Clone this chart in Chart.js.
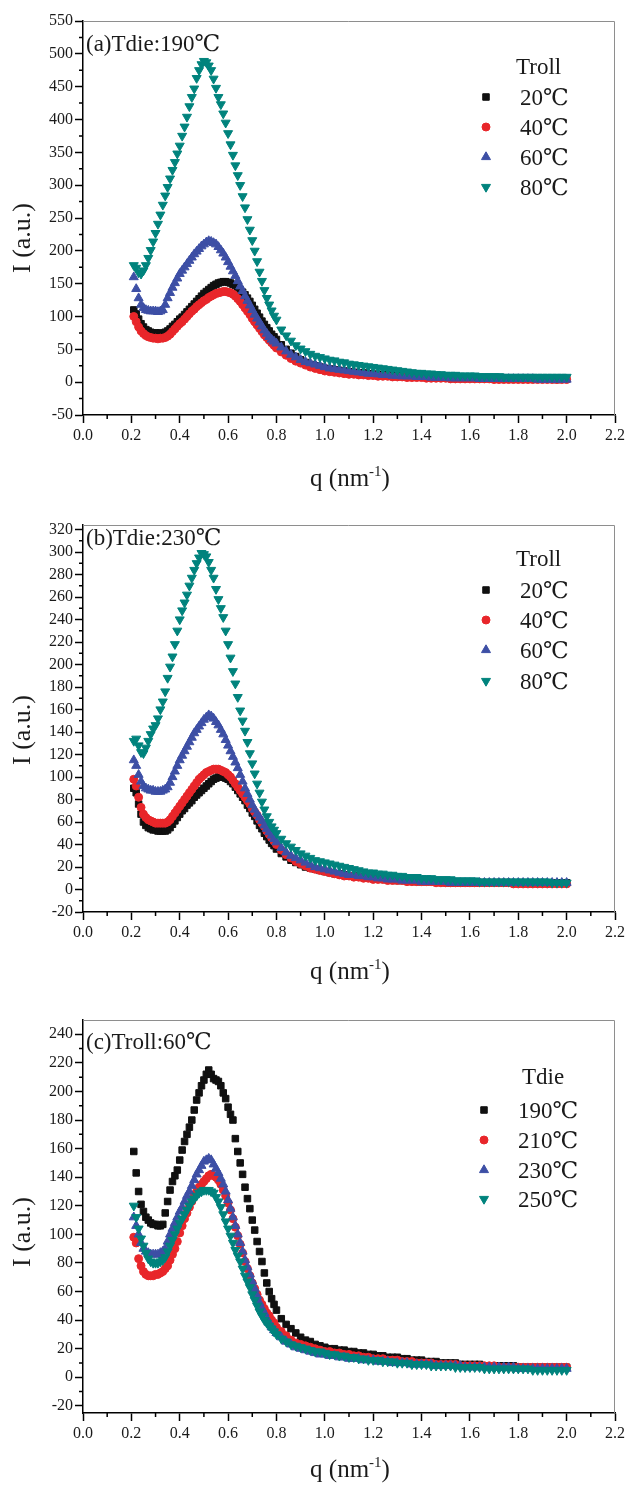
<!DOCTYPE html>
<html>
<head>
<meta charset="utf-8">
<script src="https://cdn.jsdelivr.net/npm/chart.js@4.4.1/dist/chart.umd.min.js"></script>
<style>
body { margin: 0; background: #fff; }
#wrap { position: relative; width: 628px; height: 1485px; overflow: hidden; color: #1a1a1a;
  font-family: "Liberation Serif", "Times New Roman", "DejaVu Serif", "Noto Sans CJK SC", serif; }
canvas { position: absolute; left: 0; }
.t { position: absolute; white-space: nowrap; font-size: 23px; line-height: 23px; }
.xt { position: absolute; white-space: nowrap; font-size: 25px; line-height: 25px; transform: translateX(-50%); }
.xt span { font-size: 15px; position: relative; top: -10px; }
.yt { position: absolute; white-space: nowrap; font-size: 26px; line-height: 26px; transform: translate(-50%, -50%) rotate(-90deg); }
</style>
</head>
<body>
<div id="wrap"></div>
<script>
// scattering vector q (nm^-1)
const q = [0.21,0.22,0.23,0.24,0.25,0.26,0.27,0.28,0.29,0.30,
  0.31,0.32,0.33,0.34,0.35,0.36,0.37,0.38,0.39,0.40,
  0.41,0.42,0.43,0.44,0.45,0.46,0.47,0.48,0.49,0.50,
  0.51,0.52,0.53,0.54,0.55,0.56,0.57,0.58,0.59,0.60,
  0.61,0.62,0.63,0.64,0.65,0.66,0.67,0.68,0.69,0.70,
  0.71,0.72,0.73,0.74,0.75,0.76,0.77,0.78,0.79,0.80,
  0.82,0.84,0.86,0.88,0.90,0.92,0.94,0.96,0.98,1.00,
  1.02,1.04,1.06,1.08,1.10,1.12,1.14,1.16,1.18,1.20,
  1.22,1.24,1.26,1.28,1.30,1.32,1.34,1.36,1.38,1.40,
  1.42,1.44,1.46,1.48,1.50,1.52,1.54,1.56,1.58,1.60,
  1.62,1.64,1.66,1.68,1.70,1.72,1.74,1.76,1.78,1.80,
  1.82,1.84,1.86,1.88,1.90,1.92,1.94,1.96,1.98,2.00];

// (a) Tdie 190, Troll 20/40/60/80
const a20 = [110,104,96,89,84,80,78,76,75,75, 74,75,74,76,78,81,85,88,92,96,
  99,103,107,111,115,119,123,127,131,135, 138,141,144,147,149,151,152,153,153,152,
  151,149,147,144,141,137,133,128,123,117, 111,105,99,93,88,83,78,73,69,65,
  57,50,44,39,34,30,27,25,23,21, 20,19,18,17,16,15,14,14,13,12,
  12,11,11,10,10,9,9,9,8,8, 8,8,7,7,7,7,7,6,6,6,
  6,6,6,6,5,5,5,5,5,5, 5,5,5,5,5,5,5,4,5,5];
const a40 = [100,92,84,78,74,71,69,68,67,67, 66,67,67,68,70,73,77,81,85,89,
  92,96,100,104,108,111,115,118,121,124, 126,129,131,133,135,136,137,138,138,137,
  136,134,131,127,123,118,113,108,103,97, 92,87,82,77,72,68,64,60,56,52,
  46,41,36,32,29,26,23,21,19,17, 16,15,14,13,12,12,11,11,10,10,
  9,9,9,8,8,8,7,7,7,7, 6,6,6,6,6,5,5,5,5,5,
  5,5,5,5,4,4,4,4,4,4, 4,4,4,4,4,4,4,4,4,4];
const a60 = [160,142,128,118,113,110,109,108,108,108, 107,108,110,118,128,136,144,151,158,165,
  170,175,180,185,190,195,199,203,207,210, 213,215,214,212,210,206,201,196,190,183,
  176,169,162,154,146,139,131,124,117,110, 103,97,91,85,79,74,69,65,62,59,
  53,47,42,38,34,31,29,27,25,23, 21,20,19,18,17,16,15,14,13,13,
  12,11,11,10,10,9,9,9,8,8, 8,7,7,7,7,6,6,6,6,6,
  6,5,5,5,5,5,5,5,5,5, 5,5,5,4,4,4,4,4,4,4];
const a80 = [178,174,167,165,170,178,189,201,214,227, 241,255,270,284,297,310,323,335,348,360,
  375,389,404,420,434,447,463,475,484,489, 487,482,475,462,448,434,423,409,395,379,
  362,346,330,315,300,283,266,248,232,216, 200,184,168,154,140,128,118,109,101,95,
  80,71,63,56,51,47,43,40,38,36, 34,33,31,30,28,27,26,25,24,23,
  22,21,20,19,18,17,16,15,14,14, 13,13,12,12,11,11,11,10,10,10,
  10,9,9,9,9,9,8,8,8,8, 8,8,8,8,8,8,8,8,8,8];

// (b) Tdie 230, Troll 20/40/60/80
const b20 = [90,86,76,67,60,57,55,54,53,53, 52,52,52,52,53,55,58,61,64,67,
  70,72,75,77,79,82,84,86,88,90, 92,94,96,98,99,100,100,100,99,98,
  96,94,91,88,85,82,79,75,72,68, 65,61,57,54,50,47,44,41,39,36,
  32,29,26,24,22,20,19,18,17,16, 15,14,14,13,12,12,11,11,10,10,
  10,9,9,9,8,8,8,8,7,7, 7,7,7,7,6,6,6,6,6,6,
  6,6,6,6,6,6,6,6,6,6, 6,6,6,6,6,6,6,6,6,6];
const b40 = [98,92,82,73,67,64,62,61,60,59, 59,59,59,59,60,62,65,68,71,74,
  77,80,83,86,89,92,95,98,100,102, 104,105,106,107,107,107,106,105,104,102,
  100,97,94,91,88,85,82,79,76,72, 69,66,62,59,56,52,49,46,43,40,
  35,31,28,25,23,21,19,18,17,16, 15,14,13,12,12,11,11,10,10,9,
  9,9,8,8,8,8,7,7,7,7, 7,7,6,6,6,6,6,6,6,6,
  6,6,6,6,6,6,6,6,5,5, 5,5,5,5,5,5,5,5,5,5];
const b60 = [115,110,102,96,92,90,89,88,88,87, 87,87,88,89,91,95,100,105,110,115,
  119,123,127,131,135,139,142,145,148,151, 153,155,154,152,149,146,142,138,133,128,
  123,118,113,108,102,96,90,85,80,75, 71,67,64,61,57,54,51,48,45,42,
  37,33,30,28,26,24,22,20,19,18, 17,16,15,14,13,13,12,12,11,11,
  10,10,9,9,9,8,8,8,8,7, 7,7,7,7,7,6,6,6,6,6,
  6,6,6,6,6,6,6,6,6,6, 6,6,6,6,6,6,6,6,6,6];
const b80 = [132,134,128,122,121,126,132,138,143,146, 152,160,167,176,188,198,207,218,230,240,
  248,255,262,270,277,284,290,295,299,298, 296,291,284,277,267,258,250,242,230,218,
  206,194,183,171,159,150,141,131,121,112, 103,94,86,78,71,65,60,56,53,50,
  45,41,38,35,32,30,28,26,25,24, 23,22,21,20,19,18,17,16,15,15,
  14,14,13,13,12,12,11,11,11,10, 10,10,9,9,9,9,8,8,8,8,
  8,7,7,7,7,7,7,7,7,7, 7,7,7,7,7,7,6,6,6,6];

// (c) Troll 60, Tdie 190/210/230/250
const c190 = [158,143,130,121,116,112,110,108,107,107, 106,106,107,115,123,131,137,141,145,152,
  159,165,170,175,180,187,194,199,204,208, 212,215,212,209,208,207,204,199,195,189,
  184,180,167,158,150,142,133,125,118,110, 103,95,88,81,73,66,60,55,51,47,
  41,37,34,31,28,26,25,23,22,21, 20,20,19,19,18,18,17,17,16,16,
  15,15,14,14,14,13,13,12,12,12, 11,11,11,10,10,10,10,9,9,9,
  9,9,8,8,8,8,8,8,8,7, 7,7,7,7,7,7,7,7,7,7];
const c210 = [98,94,83,78,74,72,71,71,71,72, 72,73,74,76,78,82,86,90,95,101,
  106,111,115,119,123,127,130,133,135,137, 139,141,142,141,140,138,135,131,127,122,
  117,111,105,99,93,87,81,76,71,66, 62,58,54,51,48,45,43,40,38,35,
  32,29,26,24,23,22,21,20,19,18, 18,17,17,16,16,15,15,14,14,13,
  13,13,12,12,12,11,11,11,10,10, 10,10,9,9,9,9,9,8,8,8,
  8,8,8,8,8,7,7,7,7,7, 7,7,7,7,7,7,7,7,7,7];
const c230 = [112,106,100,94,90,88,87,86,86,86, 86,87,88,90,95,100,104,108,112,116,
  119,123,127,130,134,138,142,145,148,151, 152,153,152,149,146,143,139,135,130,124,
  118,112,106,100,94,88,82,77,72,67, 62,57,52,48,45,41,38,35,33,31,
  28,25,23,21,20,19,18,17,16,16, 15,15,14,14,13,13,13,12,12,12,
  11,11,11,10,10,10,10,9,9,9, 9,9,8,8,8,8,8,8,7,7,
  7,7,7,7,7,7,7,7,7,6, 6,6,6,6,6,6,6,6,6,6];
const c250 = [120,112,104,97,92,87,83,81,80,80, 80,81,82,84,88,92,96,100,104,108,
  111,114,117,120,123,125,127,129,130,131, 131,131,130,129,126,123,119,114,109,104,
  99,94,89,85,81,76,71,67,63,58, 54,50,46,43,40,38,36,34,32,30,
  27,25,23,22,21,20,19,18,18,17, 16,16,15,15,14,14,13,13,12,12,
  12,11,11,11,10,10,10,9,9,9, 9,8,8,8,8,8,7,7,7,7,
  7,7,6,6,6,6,6,6,6,6, 6,6,5,5,5,5,5,5,5,5];

// axes and labels
const xTicks = [0.0,0.2,0.4,0.6,0.8,1.0,1.2,1.4,1.6,1.8,2.0,2.2];
const yTicksA = [-50,0,50,100,150,200,250,300,350,400,450,500,550];
const yTicksB = [-20,0,20,40,60,80,100,120,140,160,180,200,220,240,260,280,300,320];
const yTicksC = [-20,0,20,40,60,80,100,120,140,160,180,200,220,240];
const namesTroll = ['20℃','40℃','60℃','80℃'];
const namesTdie = ['190℃','210℃','230℃','250℃'];
const panelTags = ['(a)Tdie:190℃','(b)Tdie:230℃','(c)Troll:60℃'];
const legendTitles = ['Troll','Troll','Tdie'];

const colors = ['#101010','#e8262a','#3d4fa5','#00837d'];
const shapes = ['rect','circle','triangle','triangle'];
const rotations = [0,0,0,180];
const radii = [4.6,4,5.2,5.2];

Chart.defaults.font.family = '"Liberation Serif", "Times New Roman", serif';

// page layout of each panel (pixels)
const panels = [
  { top: 0, padTop: 21, axisH: 80, yMin: -50, yMax: 550, yTicks: yTicksA, series: [a20, a40, a60, a80], names: namesTroll,
    tagY: 43, legTitleY: 66, legTitleX: 516, legRows: [97, 127, 157, 187], legTextX: 520, markX: 486, yTitleY: 238, xTitleY: 477 },
  { top: 495, padTop: 30, axisH: 78, yMin: -20, yMax: 324, yTicks: yTicksB, series: [b20, b40, b60, b80], names: namesTroll,
    tagY: 537, legTitleY: 558, legTitleX: 516, legRows: [590, 620, 650, 681], legTextX: 520, markX: 486, yTitleY: 730, xTitleY: 970 },
  { top: 990, padTop: 30, axisH: 72, yMin: -25, yMax: 250, yTicks: yTicksC, series: [c190, c210, c230, c250], names: namesTdie,
    tagY: 1041, legTitleY: 1076, legTitleX: 522, legRows: [1110, 1140, 1170, 1199], legTextX: 518, markX: 484, yTitleY: 1232, xTitleY: 1468 }
];
const panelH = 495;

const wrap = document.getElementById('wrap');

function addText(cls, html, left, top) {
  const d = document.createElement('div');
  d.className = cls;
  d.innerHTML = html;
  d.style.left = left + 'px';
  d.style.top = top + 'px';
  wrap.appendChild(d);
}

// top/right frame and minor ticks
const axisExtras = {
  id: 'axisExtras',
  afterDraw(chart) {
    const { ctx, chartArea: a } = chart;
    const xs = chart.scales.x, ys = chart.scales.y;
    ctx.save();
    ctx.strokeStyle = '#8e8e8e';
    ctx.lineWidth = 1;
    ctx.beginPath();
    ctx.moveTo(a.left, a.top + 0.5);
    ctx.lineTo(a.right - 0.5, a.top + 0.5);
    ctx.lineTo(a.right - 0.5, a.bottom);
    ctx.stroke();
    ctx.strokeStyle = '#000';
    ctx.lineWidth = 1.5;
    ctx.beginPath();
    for (let i = 1; i < xs.ticks.length; i++) {
      const px = xs.getPixelForValue((xs.ticks[i - 1].value + xs.ticks[i].value) / 2);
      ctx.moveTo(px, a.bottom);
      ctx.lineTo(px, a.bottom + 4);
    }
    for (let i = 1; i < ys.ticks.length; i++) {
      const py = ys.getPixelForValue((ys.ticks[i - 1].value + ys.ticks[i].value) / 2);
      ctx.moveTo(a.left, py);
      ctx.lineTo(a.left - 4, py);
    }
    ctx.stroke();
    ctx.restore();
  }
};

// legend symbols, taken from the datasets
const legendMarks = {
  id: 'legendMarks',
  afterDraw(chart) {
    const o = chart.options.plugins.legendMarks;
    const ctx = chart.ctx;
    chart.data.datasets.forEach((ds, i) => {
      ctx.save();
      ctx.fillStyle = ds.backgroundColor;
      ctx.strokeStyle = ds.borderColor;
      ctx.lineWidth = 1;
      Chart.helpers.drawPoint(ctx, { pointStyle: ds.pointStyle, rotation: ds.pointRotation, radius: ds.pointRadius, borderWidth: 1 }, o.x, o.rows[i]);
      ctx.restore();
    });
  }
};

panels.forEach((p, k) => {
  const canvas = document.createElement('canvas');
  canvas.width = 628;
  canvas.height = panelH;
  canvas.style.top = p.top + 'px';
  wrap.appendChild(canvas);

  const datasets = p.series.map((vals, i) => ({
    label: p.names[i],
    data: vals.map((v, j) => ({ x: q[j], y: v })),
    pointStyle: shapes[i],
    pointRotation: rotations[i],
    pointRadius: radii[i],
    pointBorderWidth: 1,
    backgroundColor: colors[i],
    borderColor: colors[i],
    order: 3 - i
  }));

  new Chart(canvas.getContext('2d'), {
    type: 'scatter',
    data: { datasets: datasets },
    options: {
      responsive: false,
      animation: false,
      events: [],
      layout: { padding: { top: p.padTop, right: 12, bottom: 0, left: 0 } },
      plugins: {
        legend: { display: false },
        tooltip: { enabled: false },
        legendMarks: { x: p.markX, rows: p.legRows.map(r => r - p.top) }
      },
      scales: {
        x: {
          type: 'linear', min: 0, max: 2.2,
          afterBuildTicks: s => { s.ticks = xTicks.map(v => ({ value: v })); },
          afterFit: s => { s.height = p.axisH; },
          ticks: { callback: v => Number(v).toFixed(1), autoSkip: false, maxRotation: 0, padding: 3, color: '#1a1a1a', font: { size: 16 } },
          grid: { drawOnChartArea: false, tickLength: 8, tickColor: '#000', tickWidth: 1.5 },
          border: { color: '#000', width: 1.5 }
        },
        y: {
          type: 'linear', min: p.yMin, max: p.yMax,
          afterBuildTicks: s => { s.ticks = p.yTicks.map(v => ({ value: v })); },
          afterFit: s => { s.width = 83; },
          ticks: { callback: v => String(v), autoSkip: false, padding: 2, color: '#1a1a1a', font: { size: 16 } },
          grid: { drawOnChartArea: false, tickLength: 8, tickColor: '#000', tickWidth: 1.5 },
          border: { color: '#000', width: 1.5 }
        }
      }
    },
    plugins: [axisExtras, legendMarks]
  });

  // texts
  addText('t', panelTags[k], 86, p.tagY - 11.5);
  addText('t', legendTitles[k], p.legTitleX, p.legTitleY - 11.5);
  p.names.forEach((n, i) => addText('t', n, p.legTextX, p.legRows[i] - 11.5));
  addText('yt', 'I (a.u.)', 22, p.yTitleY);
  addText('xt', 'q (nm<span>-1</span>)', 350, p.xTitleY - 12.5);
});
</script>
</body>
</html>
